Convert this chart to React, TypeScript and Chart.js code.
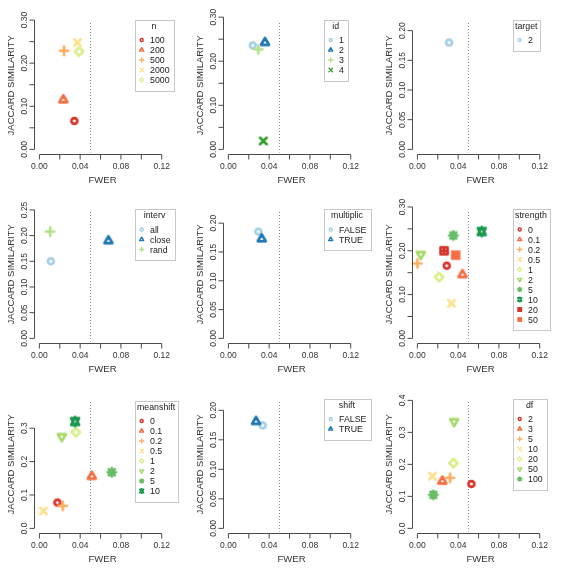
import React, { useEffect, useRef } from "react";
import { Chart, registerables } from "chart.js";
Chart.register(...registerables);

const FONT = '"Liberation Sans", Arial, Helvetica, sans-serif';
const PAIRED = ["#A6CEE3", "#1F78B4", "#B2DF8A", "#33A02C"];
const RDYLGN = ["#D73027", "#F46D43", "#FDAE61", "#FEE08B", "#D9EF8B", "#A6D96A", "#66BD63", "#1A9850"];
const PCH = [1, 2, 3, 4, 5, 6, 8, 11, 12, 15];

const X_TITLE = "FWER";
const Y_TITLE = "JACCARD SIMILARITY";
const X_TICKS = [0, 0.02, 0.04, 0.06, 0.08, 0.1, 0.12];
const X_LABELS = ["0.00", "", "0.04", "", "0.08", "", "0.12"];
const FWER_LIMIT = 0.05;

const Y_TICKS_30 = [0, 0.05, 0.1, 0.15, 0.2, 0.25, 0.3];
const Y_LABELS_30 = ["0.00", "", "0.10", "", "0.20", "", "0.30"];
const Y_TICKS_20 = [0, 0.05, 0.1, 0.15, 0.2];
const Y_LABELS_20 = ["0.00", "0.05", "0.10", "0.15", "0.20"];
const Y_TICKS_25 = [0, 0.05, 0.1, 0.15, 0.2, 0.25];
const Y_LABELS_25 = ["0.00", "0.05", "0.10", "0.15", "0.20", "0.25"];
const Y_TICKS_3 = [0, 0.1, 0.2, 0.3];
const Y_LABELS_3 = ["0.0", "0.1", "0.2", "0.3"];
const Y_TICKS_4 = [0, 0.1, 0.2, 0.3, 0.4];
const Y_LABELS_4 = ["0.0", "0.1", "0.2", "0.3", "0.4"];

// Panel 1: n
const nLevels = ["100", "200", "500", "2000", "5000"];
const nFwer = [0.0343, 0.0235, 0.0242, 0.0373, 0.0389];
const nJaccard = [0.066, 0.115, 0.229, 0.248, 0.227];
// Panel 2: id
const idLevels = ["1", "2", "3", "4"];
const idFwer = [0.0239, 0.0359, 0.0294, 0.0343];
const idJaccard = [0.236, 0.2425, 0.227, 0.019];
// Panel 3: target
const targetLevels = ["2"];
const targetFwer = [0.0311];
const targetJaccard = [0.18];
// Panel 4: interv
const intervLevels = ["all", "close", "rand"];
const intervFwer = [0.0112, 0.0677, 0.0105];
const intervJaccard = [0.15, 0.19, 0.208];
// Panel 5: multiplic
const multLevels = ["FALSE", "TRUE"];
const multFwer = [0.0294, 0.0327];
const multJaccard = [0.1855, 0.1728];
// Panel 6: strength
const strengthLevels = ["0", "0.1", "0.2", "0.5", "1", "2", "5", "10", "20", "50"];
const strengthFwer = [0.0288, 0.0442, 0.0, 0.0334, 0.0213, 0.0033, 0.0353, 0.0631, 0.0262, 0.0376];
const strengthJaccard = [0.166, 0.1455, 0.171, 0.08, 0.14, 0.1917, 0.235, 0.244, 0.2, 0.19];
// Panel 7: meanshift
const meanshiftLevels = ["0", "0.1", "0.2", "0.5", "1", "2", "5", "10"];
const meanshiftFwer = [0.0177, 0.0514, 0.0229, 0.0039, 0.0357, 0.022, 0.071, 0.035];
const meanshiftJaccard = [0.0774, 0.1557, 0.0675, 0.052, 0.288, 0.275, 0.168, 0.32];
// Panel 8: shift
const shiftLevels = ["FALSE", "TRUE"];
const shiftFwer = [0.0336, 0.0271];
const shiftJaccard = [0.1744, 0.181];
// Panel 9: df
const dfLevels = ["2", "3", "5", "10", "20", "50", "100"];
const dfFwer = [0.053, 0.0245, 0.032, 0.0147, 0.0353, 0.036, 0.0157];
const dfJaccard = [0.139, 0.1475, 0.158, 0.163, 0.204, 0.334, 0.105];

type Panel = {
  title: string; levels: string[]; fwer: number[]; jac: number[]; palette: string[];
  yTicks: number[]; yLabels: string[]; legendTop: number;
};

const PANELS: Panel[] = [
  { title: "n", levels: nLevels, fwer: nFwer, jac: nJaccard, palette: RDYLGN, yTicks: Y_TICKS_30, yLabels: Y_LABELS_30, legendTop: 19.5 },
  { title: "id", levels: idLevels, fwer: idFwer, jac: idJaccard, palette: PAIRED, yTicks: Y_TICKS_30, yLabels: Y_LABELS_30, legendTop: 19.5 },
  { title: "target", levels: targetLevels, fwer: targetFwer, jac: targetJaccard, palette: PAIRED, yTicks: Y_TICKS_20, yLabels: Y_LABELS_20, legendTop: 19.5 },
  { title: "interv", levels: intervLevels, fwer: intervFwer, jac: intervJaccard, palette: PAIRED, yTicks: Y_TICKS_25, yLabels: Y_LABELS_25, legendTop: 20 },
  { title: "multiplic", levels: multLevels, fwer: multFwer, jac: multJaccard, palette: PAIRED, yTicks: Y_TICKS_20, yLabels: Y_LABELS_20, legendTop: 20 },
  { title: "strength", levels: strengthLevels, fwer: strengthFwer, jac: strengthJaccard, palette: RDYLGN, yTicks: Y_TICKS_30, yLabels: Y_LABELS_30, legendTop: 20 },
  { title: "meanshift", levels: meanshiftLevels, fwer: meanshiftFwer, jac: meanshiftJaccard, palette: RDYLGN, yTicks: Y_TICKS_3, yLabels: Y_LABELS_3, legendTop: 21.5 },
  { title: "shift", levels: shiftLevels, fwer: shiftFwer, jac: shiftJaccard, palette: PAIRED, yTicks: Y_TICKS_20, yLabels: Y_LABELS_20, legendTop: 19.5 },
  { title: "df", levels: dfLevels, fwer: dfFwer, jac: dfJaccard, palette: RDYLGN, yTicks: Y_TICKS_4, yLabels: Y_LABELS_4, legendTop: 19.5 },
];

const COLS = [0, 189, 378];
const ROWS = [0, 189, 379];
const SIZE = 189;

const AXIS_COL = "#4a4a4a";
const TICK_COL = "#333333";
const TITLE_COL = "#333333";
const LEG_TEXT = "#1a1a1a";
const LEG_BORDER = "#c8c8c8";
const DOT_COL = "#8a8a8a";

function drawPch(ctx: CanvasRenderingContext2D, pch: number, x: number, y: number, R: number, lw: number, col: string) {
  const S2 = Math.SQRT2, TRC0 = 1.5551, TRC1 = 1.3468, TRC2 = 0.7776;
  ctx.save();
  ctx.strokeStyle = col;
  ctx.fillStyle = col;
  ctx.lineWidth = lw;
  ctx.lineCap = "round";
  ctx.lineJoin = "round";
  ctx.setLineDash([]);
  ctx.beginPath();
  const line = (x1: number, y1: number, x2: number, y2: number) => { ctx.moveTo(x1, y1); ctx.lineTo(x2, y2); };
  switch (pch) {
    case 1:
      ctx.arc(x, y, R, 0, Math.PI * 2);
      ctx.stroke();
      break;
    case 2:
    case 6: {
      const s = pch === 2 ? 1 : -1;
      const r = TRC0 * R, xc = TRC1 * R, yc = TRC2 * R;
      ctx.moveTo(x, y - s * r);
      ctx.lineTo(x + xc, y + s * yc);
      ctx.lineTo(x - xc, y + s * yc);
      ctx.closePath();
      ctx.stroke();
      break;
    }
    case 3: {
      const c = S2 * R;
      line(x - c, y, x + c, y);
      line(x, y - c, x, y + c);
      ctx.stroke();
      break;
    }
    case 4: {
      const c = R * 1.1;
      line(x - c, y - c, x + c, y + c);
      line(x - c, y + c, x + c, y - c);
      ctx.stroke();
      break;
    }
    case 5: {
      const c = S2 * R;
      ctx.moveTo(x - c, y);
      ctx.lineTo(x, y - c);
      ctx.lineTo(x + c, y);
      ctx.lineTo(x, y + c);
      ctx.closePath();
      ctx.stroke();
      break;
    }
    case 8: {
      const c = R, d = S2 * R;
      line(x - c, y - c, x + c, y + c);
      line(x - c, y + c, x + c, y - c);
      line(x - d, y, x + d, y);
      line(x, y - d, x, y + d);
      ctx.stroke();
      break;
    }
    case 11: {
      const r = TRC0 * R, yc = 0.5 * (TRC2 * R + r), xc = TRC1 * R;
      ctx.moveTo(x, y - r);
      ctx.lineTo(x + xc, y + yc);
      ctx.lineTo(x - xc, y + yc);
      ctx.closePath();
      ctx.moveTo(x, y + r);
      ctx.lineTo(x + xc, y - yc);
      ctx.lineTo(x - xc, y - yc);
      ctx.closePath();
      ctx.stroke();
      break;
    }
    case 12: {
      const c = 1.18 * R;
      ctx.rect(x - c, y - c, 2 * c, 2 * c);
      line(x - c, y, x + c, y);
      line(x, y - c, x, y + c);
      ctx.stroke();
      break;
    }
    case 15: {
      const c = 1.6 * R;
      ctx.fillRect(x - c, y - c, 2 * c, 2 * c);
      break;
    }
  }
  ctx.restore();
}

function symbolImage(pch: number, col: string) {
  const c = document.createElement("canvas");
  c.width = 24;
  c.height = 24;
  const g = c.getContext("2d")!;
  drawPch(g, pch, 12, 12, 2.95, 2.7, col);
  return c;
}

function makePlugin(p: Panel) {
  return {
    id: "rStyle",
    beforeDatasetsDraw(chart: any) {
      const { ctx, chartArea: a } = chart;
      const xs = chart.scales.x;
      const px = Math.round(xs.getPixelForValue(FWER_LIMIT)) + 0.5;
      ctx.save();
      ctx.strokeStyle = DOT_COL;
      ctx.lineWidth = 1;
      ctx.setLineDash([1, 2]);
      ctx.beginPath();
      ctx.moveTo(px, a.top + 7);
      ctx.lineTo(px, a.bottom - 2);
      ctx.stroke();
      ctx.restore();
    },
    afterDraw(chart: any) {
      const { ctx, chartArea: a } = chart;
      const xs = chart.scales.x;
      const ys = chart.scales.y;
      ctx.save();
      // x axis
      ctx.strokeStyle = AXIS_COL;
      ctx.lineWidth = 1;
      ctx.beginPath();
      const yb = a.bottom;
      ctx.moveTo(xs.getPixelForValue(X_TICKS[0]), yb);
      ctx.lineTo(xs.getPixelForValue(X_TICKS[X_TICKS.length - 1]), yb);
      X_TICKS.forEach((v) => {
        const px = xs.getPixelForValue(v);
        ctx.moveTo(px, yb);
        ctx.lineTo(px, yb + 5);
      });
      // y axis
      const xl = a.left;
      ctx.moveTo(xl, ys.getPixelForValue(p.yTicks[0]));
      ctx.lineTo(xl, ys.getPixelForValue(p.yTicks[p.yTicks.length - 1]));
      p.yTicks.forEach((v) => {
        const py = ys.getPixelForValue(v);
        ctx.moveTo(xl, py);
        ctx.lineTo(xl - 5, py);
      });
      ctx.stroke();

      // tick labels
      ctx.fillStyle = TICK_COL;
      ctx.font = `8.5px ${FONT}`;
      ctx.textAlign = "center";
      ctx.textBaseline = "alphabetic";
      X_TICKS.forEach((v, i) => {
        if (X_LABELS[i]) ctx.fillText(X_LABELS[i], xs.getPixelForValue(v), yb + 14.3);
      });
      p.yTicks.forEach((v, i) => {
        if (!p.yLabels[i]) return;
        ctx.save();
        ctx.translate(xl - 7.8, ys.getPixelForValue(v));
        ctx.rotate(-Math.PI / 2);
        ctx.fillText(p.yLabels[i], 0, 0);
        ctx.restore();
      });

      // axis titles
      ctx.fillStyle = TITLE_COL;
      ctx.font = `9.5px ${FONT}`;
      ctx.fillText(X_TITLE, (a.left + a.right) / 2 + 2, 183.4);
      ctx.save();
      ctx.translate(13.9, (a.top + a.bottom) / 2);
      ctx.rotate(-Math.PI / 2);
      ctx.fillText(Y_TITLE, 0, 0);
      ctx.restore();

      // legend
      const fs = 8.8;
      ctx.font = `${fs}px ${FONT}`;
      const tw = ctx.measureText(p.title).width;
      const mw = Math.max(...p.levels.map((l) => ctx.measureText(l).width));
      const left = 134.5;
      const top = p.legendTop;
      const w = Math.max(tw + 5, 15.5 + mw + 4);
      const h = 10 * p.levels.length + 20.5;
      ctx.fillStyle = "#ffffff";
      ctx.fillRect(left, top, w, h);
      ctx.strokeStyle = LEG_BORDER;
      ctx.lineWidth = 1;
      ctx.strokeRect(Math.round(left) + 0.5, Math.round(top) + 0.5, Math.round(w), Math.round(h));
      ctx.fillStyle = LEG_TEXT;
      ctx.textAlign = "center";
      ctx.fillText(p.title, left + w / 2, top + 9);
      ctx.textAlign = "left";
      p.levels.forEach((lv, i) => {
        const y = top + 20.5 + 10 * i;
        const col = p.palette[i % p.palette.length];
        drawPch(ctx, PCH[i], left + 7.2, y, 1.5, 1.4, col);
        ctx.fillStyle = LEG_TEXT;
        ctx.fillText(lv, left + 15.5, y + 0.35 * fs);
      });
      ctx.restore();
    },
  };
}

function makeConfig(p: Panel): any {
  const ym = 1.2 * Math.max(...p.jac);
  const xr = X_TICKS[X_TICKS.length - 1] - X_TICKS[0];
  return {
    type: "scatter",
    data: {
      datasets: p.levels.map((lv, i) => {
        const col = p.palette[i % p.palette.length];
        return {
          label: lv,
          data: [{ x: p.fwer[i], y: p.jac[i] }],
          pointStyle: symbolImage(PCH[i], col),
          pointRadius: 5,
          pointHoverRadius: 5,
          borderColor: col,
          backgroundColor: col,
          order: -i,
        };
      }),
    },
    options: {
      responsive: false,
      animation: false,
      devicePixelRatio: 1,
      events: [],
      layout: { padding: { left: 34.5, right: 22.4, top: 16, bottom: 34.5 } },
      scales: {
        x: { type: "linear", display: false, min: X_TICKS[0] - 0.04 * xr, max: X_TICKS[X_TICKS.length - 1] + 0.04 * xr },
        y: { type: "linear", display: false, min: -0.04 * ym, max: 1.04 * ym },
      },
      plugins: { legend: { display: false }, tooltip: { enabled: false } },
    },
    plugins: [makePlugin(p)],
  };
}

export default function App() {
  const refs = useRef<(HTMLCanvasElement | null)[]>([]);
  useEffect(() => {
    const charts = PANELS.map((p, i) => new Chart(refs.current[i] as HTMLCanvasElement, makeConfig(p)));
    return () => charts.forEach((c) => c.destroy());
  }, []);
  return (
    <div style={{ position: "absolute", left: 0, top: 0, width: 568, height: 568, background: "#ffffff" }}>
      {PANELS.map((p, i) => (
        <canvas
          key={p.title}
          ref={(el) => { refs.current[i] = el; }}
          width={SIZE}
          height={SIZE}
          style={{ position: "absolute", left: COLS[i % 3], top: ROWS[Math.floor(i / 3)], width: SIZE, height: SIZE }}
        />
      ))}
    </div>
  );
}
